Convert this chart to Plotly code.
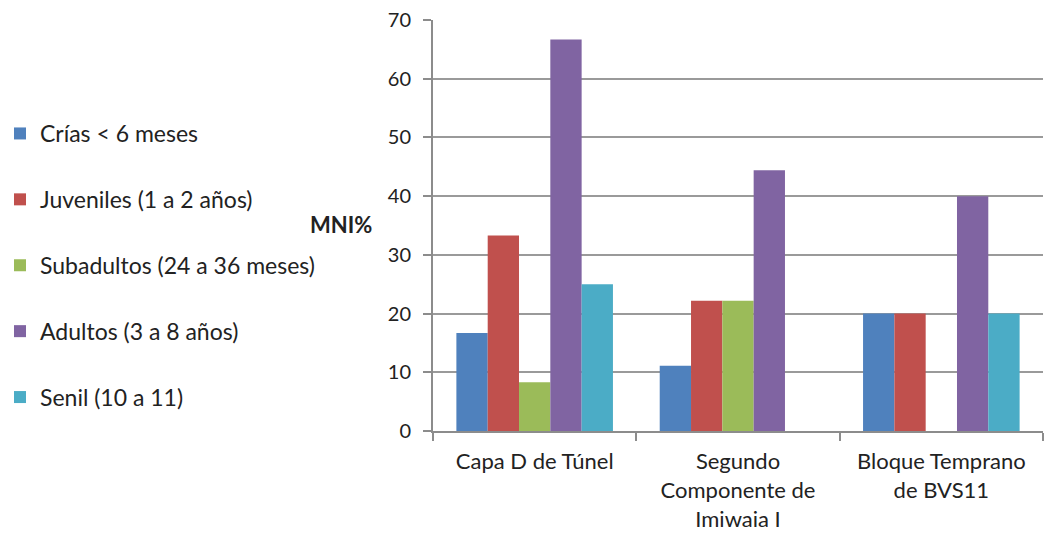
import plotly.graph_objects as go

# Sitios / componentes analizados
categorias = [
    "Capa D de Túnel",
    "Segundo<br>Componente de<br>Imiwaia I",
    "Bloque Temprano<br>de BVS11",
]

# Clases de edad
series = [
    "Crías < 6 meses",
    "Juveniles (1 a 2 años)",
    "Subadultos (24 a 36 meses)",
    "Adultos (3 a 8 años)",
    "Senil (10 a 11)",
]

# MNI% por clase de edad (orden de categorias)
crias = [16.7, 11.1, 20.0]
juveniles = [33.3, 22.2, 20.0]
subadultos = [8.3, 22.2, 0.0]
adultos = [66.7, 44.4, 40.0]
senil = [25.0, 0.0, 20.0]

valores = [crias, juveniles, subadultos, adultos, senil]
colores = ["#4F81BD", "#C0504D", "#9BBB59", "#8064A2", "#4BACC6"]

y_ticks = [0, 10, 20, 30, 40, 50, 60, 70]

FUENTE = "Lato, 'Open Sans', sans-serif"
TEXTO = "#222222"

fig = go.Figure()
for i, (nombre, vals, col) in enumerate(zip(series, valores, colores)):
    fig.add_trace(go.Bar(
        x=categorias,
        y=vals,
        name=nombre,
        legendgroup=f"g{i}",
        marker=dict(color=col, line=dict(width=0)),
    ))

fig.update_layout(
    width=1045,
    height=536,
    margin=dict(l=433, r=2, t=20, b=105),
    paper_bgcolor="white",
    plot_bgcolor="white",
    barmode="group",
    bargap=0.23,
    bargroupgap=0,
    font=dict(family=FUENTE, color=TEXTO, size=23),
    showlegend=True,
    legend=dict(
        xref="container",
        yref="container",
        x=0.0,
        y=1 - 112 / 536,
        xanchor="left",
        yanchor="top",
        tracegroupgap=33,
        maxheight=520,
        font=dict(family=FUENTE, size=23, color=TEXTO),
        itemwidth=30,
        bgcolor="rgba(0,0,0,0)",
    ),
    xaxis=dict(
        type="category",
        automargin=False,
        showgrid=False,
        showline=True,
        linecolor="#8c8c8c",
        linewidth=2,
        ticks="outside",
        tickson="boundaries",
        ticklen=8,
        tickcolor="#8c8c8c",
        tickwidth=2,
        ticklabelstandoff=10,
        tickfont=dict(family=FUENTE, size=22, color=TEXTO),
    ),
    yaxis=dict(
        range=[0, 70],
        automargin=False,
        tickvals=y_ticks,
        ticktext=[str(v) for v in y_ticks],
        showgrid=True,
        gridcolor="#9a9a9a",
        gridwidth=2,
        showline=True,
        linecolor="#8c8c8c",
        linewidth=2,
        ticks="outside",
        ticklen=8,
        tickcolor="#8c8c8c",
        tickwidth=2,
        zeroline=False,
        ticklabelstandoff=8,
        tickfont=dict(family=FUENTE, size=20, color=TEXTO),
    ),
)

# Título del eje Y, horizontal a la izquierda del eje
fig.add_annotation(
    text="<b>MNI%</b>",
    xref="paper", yref="paper",
    x=-0.097, y=(431 - 225) / 411,
    xanchor="right", yanchor="middle",
    showarrow=False,
    font=dict(family=FUENTE, size=22, color=TEXTO),
)

fig.write_html("out.html")
